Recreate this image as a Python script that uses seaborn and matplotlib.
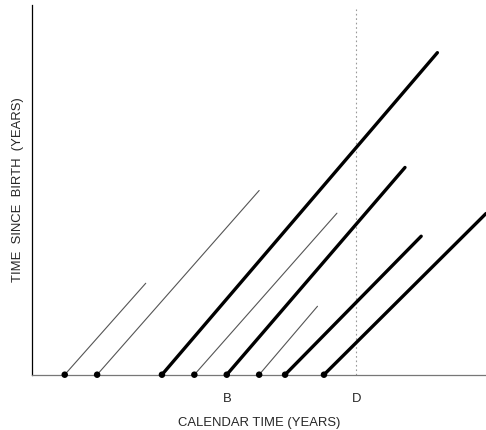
import matplotlib
matplotlib.use("Agg")
import matplotlib.pyplot as plt
import seaborn as sns
import pandas as pd

# Lexis-style diagram: each line starts at birth on the calendar axis
birth_x = [1.0, 2.0, 4.0, 5.0, 6.0, 7.0, 7.8, 9.0]
end_x = [3.5, 7.0, 12.5, 9.4, 11.5, 8.8, 12.0, 14.0]
end_y = [2.82, 5.68, 9.93, 4.98, 6.39, 2.11, 4.27, 4.97]
is_thick = [False, False, True, False, True, False, True, True]

tick_pos = [6.0, 10.0]
tick_labels = ["B", "D"]
d_line_x = 10.0

rows = []
for i, (bx, ex, ey, tk) in enumerate(zip(birth_x, end_x, end_y, is_thick)):
    rows.append({"id": i, "x": bx, "y": 0.0, "thick": tk})
    rows.append({"id": i, "x": ex, "y": ey, "thick": tk})
df = pd.DataFrame(rows)

sns.set_style("white")
plt.rcParams["font.family"] = ["Liberation Sans", "DejaVu Sans"]

fig = plt.figure(figsize=(4.86, 4.30), dpi=100)
ax = fig.add_axes([0.0665, 0.1286, 0.9335, 0.8598])

# dotted reference line at D
ax.axvline(d_line_x, ymin=0, ymax=0.99, color="#999999", lw=0.8, ls=(0, (1.5, 2.5)), zorder=1)

for i, seg in df.groupby("id"):
    tk = seg["thick"].iloc[0]
    sns.lineplot(data=seg, x="x", y="y", ax=ax, sort=False, estimator=None,
                 color="black" if tk else "#555555",
                 lw=2.4 if tk else 0.8, zorder=3, clip_on=True)

sns.scatterplot(x=birth_x, y=[0.0] * len(birth_x), ax=ax, color="black",
                s=22, edgecolor="none", zorder=5, clip_on=False)

ax.set_xlim(0, 14.0)
ax.set_ylim(0, 11.4)
ax.set_xticks(tick_pos)
ax.set_xticklabels(tick_labels, fontsize=9.4)
ax.set_yticks([])
ax.tick_params(axis="x", length=0, pad=13)

ax.set_xlabel("CALENDAR TIME (YEARS)", fontsize=9.4, labelpad=9)
ax.set_ylabel("TIME  SINCE  BIRTH  (YEARS)", fontsize=9.4, labelpad=6)

sns.despine(ax=ax, top=True, right=True)
ax.spines["left"].set_color("black")
ax.spines["left"].set_linewidth(0.9)
ax.spines["bottom"].set_color("#777777")
ax.spines["bottom"].set_linewidth(0.9)

fig.savefig("out.png", dpi=100)
